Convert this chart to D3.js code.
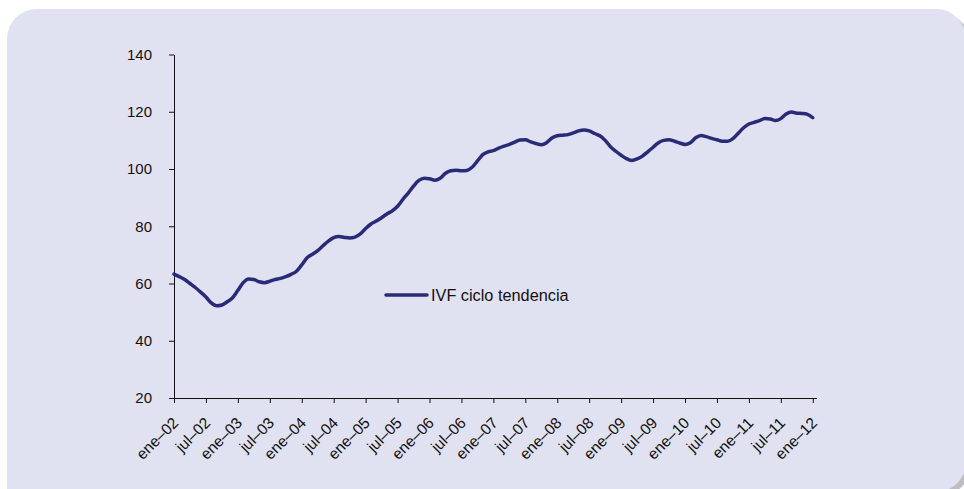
<!DOCTYPE html>
<html>
<head>
<meta charset="utf-8">
<script src="https://cdn.jsdelivr.net/npm/d3@7"></script>
<style>
  body { margin: 0; background: #fff; }
  svg { display: block; font-family: "Liberation Sans", Arial, sans-serif; }
</style>
</head>
<body>
<svg width="964" height="489"></svg>
<script>
// IVF ciclo tendencia, monthly ene-02 .. ene-12
const ivf = [
  63.3, 62.4, 61.4, 60.0, 58.6, 57.0, 55.3, 53.2, 52.2, 52.5, 53.6, 55.0,
  57.6, 60.3, 61.6, 61.4, 60.6, 60.3, 60.8, 61.4, 61.8, 62.4, 63.2, 64.3,
  66.5, 69.0, 70.2, 71.5, 73.2, 74.8, 76.0, 76.4, 76.1, 75.9, 76.2, 77.3,
  79.2, 80.8, 81.8, 83.0, 84.3, 85.4, 87.0, 89.4, 91.6, 94.0, 96.0, 96.8,
  96.6, 96.1, 96.8, 98.5, 99.4, 99.6, 99.4, 99.5, 100.6, 102.8, 105.0, 106.0,
  106.4, 107.3, 108.0, 108.6, 109.4, 110.1, 110.2, 109.5, 108.9, 108.5, 109.2, 110.8,
  111.6, 111.8, 112.0, 112.6, 113.3, 113.6, 113.3, 112.4, 111.6, 110.0, 107.8, 106.2,
  104.8, 103.6, 103.0, 103.5, 104.5, 106.0, 107.6, 109.2, 110.0, 110.2, 109.7, 109.1,
  108.6, 109.2, 110.9, 111.7, 111.3, 110.7, 110.2, 109.7, 109.7, 110.6, 112.5, 114.4,
  115.7, 116.3, 116.9, 117.6, 117.5, 116.9, 117.6, 119.2, 119.9, 119.5, 119.4, 119.1,
  117.9
];

const tickLabels = [
  "ene–02", "jul–02", "ene–03", "jul–03", "ene–04", "jul–04", "ene–05",
  "jul–05", "ene–06", "jul–06", "ene–07", "jul–07", "ene–08", "jul–08",
  "ene–09", "jul–09", "ene–10", "jul–10", "ene–11", "jul–11", "ene–12"
];

const yTicks = [20, 40, 60, 80, 100, 120, 140];
const seriesName = "IVF ciclo tendencia";

const svg = d3.select("svg");

// panel: rounded top corners and bottom-right, grey shadow under the corner
function panelPath(x0, y0, x1, y1, r) {
  const p = d3.path();
  p.moveTo(x0, y1 + 20);
  p.lineTo(x0, y0 + r);
  p.arcTo(x0, y0, x0 + r, y0, r);
  p.lineTo(x1 - r, y0);
  p.arcTo(x1, y0, x1, y0 + r, r);
  p.lineTo(x1, y1 - r);
  p.arcTo(x1, y1, x1 - r, y1, r);
  p.lineTo(x0, y1 + 20);
  p.closePath();
  return p.toString();
}

svg.append("path")
  .attr("d", panelPath(11, 13, 970, 496, 30))
  .attr("fill", "#bdbdc2");

svg.append("path")
  .attr("d", panelPath(7, 9, 966, 492, 30))
  .attr("fill", "#e0e1f1");

const x = d3.scaleLinear()
  .domain([0, 120.7])
  .range([174, 816.5]);

const y = d3.scaleLinear()
  .domain([20, 140])
  .range([398, 54.5]);

const lineColor = "#2a2b78";

// y axis
const yAxis = svg.append("g")
  .attr("transform", "translate(174,0)")
  .call(d3.axisLeft(y).tickValues(yTicks).tickSize(5).tickPadding(17).tickSizeOuter(0));

yAxis.selectAll("text")
  .attr("font-size", 15)
  .attr("fill", "#111")
  .attr("font-family", "Liberation Sans, Arial, sans-serif");

// x axis
const xAxis = svg.append("g")
  .attr("transform", "translate(0,398)")
  .call(d3.axisBottom(x)
    .tickValues(d3.range(0, 121, 6))
    .tickSize(5)
    .tickSizeOuter(0)
    .tickFormat((d, i) => tickLabels[i]));

xAxis.selectAll("text")
  .attr("font-size", 15.5)
  .attr("fill", "#111")
  .attr("font-family", "Liberation Sans, Arial, sans-serif")
  .attr("text-anchor", "end")
  .attr("dy", "0.35em")
  .attr("y", 0)
  .attr("transform", "translate(1,22) rotate(-45)");

svg.selectAll(".domain, .tick line").attr("stroke", "#111");

// series line
const line = d3.line()
  .x((d, i) => x(i))
  .y(d => y(d))
  .curve(d3.curveMonotoneX);

svg.append("path")
  .datum(ivf)
  .attr("fill", "none")
  .attr("stroke", lineColor)
  .attr("stroke-width", 3.5)
  .attr("stroke-linejoin", "round")
  .attr("stroke-linecap", "round")
  .attr("d", line);

// legend
const legend = svg.append("g").attr("transform", "translate(386,295)");
legend.append("line")
  .attr("x1", 0).attr("x2", 41)
  .attr("y1", 0).attr("y2", 0)
  .attr("stroke", lineColor)
  .attr("stroke-width", 3.5)
  .attr("stroke-linecap", "round");
legend.append("text")
  .attr("x", 45).attr("y", 0)
  .attr("dy", "0.35em")
  .attr("font-size", 16.3)
  .attr("fill", "#111")
  .text(seriesName);
</script>
</body>
</html>
